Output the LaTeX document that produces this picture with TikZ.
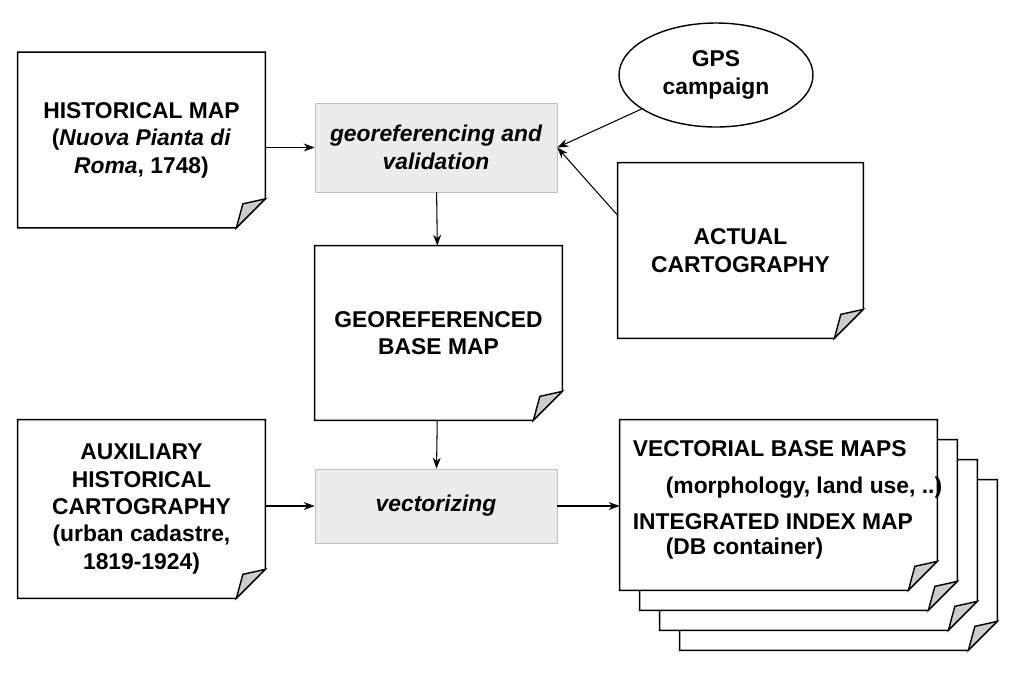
\documentclass[tikz,border=0pt]{standalone}
\usepackage{fontspec}
\setmainfont{Liberation Sans}
\usetikzlibrary{shapes,arrows.meta,positioning,shapes.geometric,calc}

% folded sheet outline drawn around a named node
\newcommand{\sheet}[1]{%
  \fill[white] (#1.north west) -- (#1.north east) -- ($(#1.south east)+(0,0.58)$)
    -- ($(#1.south east)+(-0.58,0)$) -- (#1.south west) -- cycle;
  \draw[thick] (#1.north west) -- (#1.north east) -- ($(#1.south east)+(0,0.58)$)
    -- ($(#1.south east)+(-0.58,0)$) -- (#1.south west) -- cycle;
  \draw[thick, fill=gray!40] ($(#1.south east)+(0,0.58)$) -- ($(#1.south east)+(-0.45,0.48)$)
    -- ($(#1.south east)+(-0.58,0)$) -- cycle;}

\begin{document}
\begin{tikzpicture}[
        font=\fontsize{13}{15.6}\selectfont\bfseries,
        paper/.style={rectangle, align=center, minimum width=4.94cm, minimum height=3.5cm, inner sep=0pt},
        process/.style={rectangle, draw=gray!50, fill=gray!15, align=center, minimum width=4.84cm, inner sep=0pt, font=\fontsize{13}{15.6}\selectfont\bfseries\itshape},
        decision/.style={ellipse, draw=black, thick, fill=white, minimum width=3.88cm, minimum height=2.08cm, align=center},
        line/.style={draw, -{Stealth[length=2.2mm,width=1.6mm]}, semithick}
    ]
        \useasboundingbox (0,0) rectangle (20.48,-13.44);

        % Inputs
        \node[paper] (hist) at (2.83,-2.8) {};
        \node[process, minimum height=1.78cm] (georef) at (8.72,-2.95) {georeferencing and\\validation};
        \node[decision] (gps) at (14.32,-1.5) {GPS\\campaign};
        \node[paper, minimum width=4.9cm] (actual) at (14.81,-5.01) {};
        \node[paper, minimum height=3.48cm] (base) at (8.77,-6.66) {};

        % Vectorizing
        \node[paper, minimum height=3.56cm] (aux) at (2.83,-10.18) {};
        \node[process, minimum height=1.48cm] (vect) at (8.72,-10.12) {vectorizing};
        \foreach \i/\n in {3/back3,2/back2,1/back1}
            \node[paper, minimum width=6.34cm, minimum height=3.4cm] (\n) at ($(15.57,-10.1)+(0.4*\i,-0.4*\i)$) {};
        \node[paper, minimum width=6.34cm, minimum height=3.4cm] (vbase) at (15.57,-10.1) {};

        \foreach \n in {hist,actual,base,aux,back3,back2,back1,vbase}
            \sheet{\n};

        % Sheet texts
        \node[align=center] (histtext) at (hist) {HISTORICAL MAP\\(\textit{Nuova Pianta di}\\\textit{Roma}, 1748)};
        \node[align=center] (acttext) at (actual) {ACTUAL\\CARTOGRAPHY};
        \node[align=center] (basetext) at (base) {GEOREFERENCED\\BASE MAP};
        \node[align=center] (auxtext) at (aux) {AUXILIARY\\HISTORICAL\\CARTOGRAPHY\\(urban cadastre,\\1819-1924)};
        \node[align=left, anchor=north west] (vtext) at ($(vbase.north west)+(0.14,-0.3)$)
            {VECTORIAL BASE MAPS\\[5pt]\hspace{0.66cm}(morphology, land use, ..)\\[5pt]INTEGRATED INDEX MAP\\[-1pt]\hspace{0.66cm}(DB container)};

        % Connections
        \draw[line] (hist.east |- georef.west) -- (georef.west);
        \draw[line] (gps) -- (georef.east);
        \draw[line] ($(actual.north west)!0.3!(actual.south west)$) -- (georef.east);
        \draw[line] (georef) -- (base);
        \draw[line] (base) -- (vect);
        \draw[line] (aux.east |- vect.west) -- (vect.west);
        \draw[line] (vect.east) -- (vect.east -| vbase.west);
    \end{tikzpicture}
\end{document}
